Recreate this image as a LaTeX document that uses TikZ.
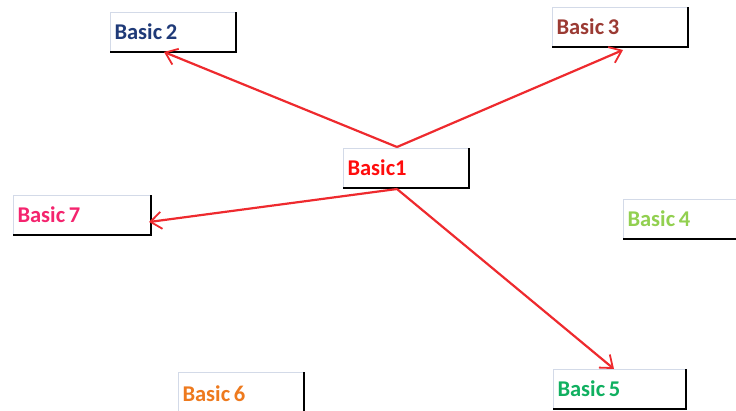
\documentclass[tikz,border=0pt]{standalone}
\usepackage{fontspec}
\setmainfont{Carlito}
\usetikzlibrary{arrows.meta}
\definecolor{edgegray}{HTML}{D3DAE8}
\definecolor{arrred}{HTML}{EE2A2E}
\definecolor{cBtwo}{HTML}{1F3A78}
\definecolor{cBthree}{HTML}{9B3A33}
\definecolor{cBone}{HTML}{FF0D0D}
\definecolor{cBseven}{HTML}{F4246E}
\definecolor{cBfour}{HTML}{92D050}
\definecolor{cBsix}{HTML}{EE7A1E}
\definecolor{cBfive}{HTML}{10B060}
\tikzset{
  basicbox/.style={draw=edgegray, line width=1pt, fill=white, anchor=north west,
    inner sep=0pt, minimum height=39pt, font=\fontsize{22.5}{25}\selectfont\bfseries,
    align=left},
  shadowline/.style={draw=black, line width=2.5pt},
  conn/.style={draw=arrred, line width=2.2pt, -{Straight Barb[length=11pt,width=17pt,line width=1.8pt]}}
}
\begin{document}
\begin{tikzpicture}[x=1pt,y=-1pt]
\useasboundingbox (0,0) rectangle (736,410);
\node[basicbox, minimum width=125pt, text width=117pt, text=cBtwo] (b2) at (110,12) {Basic\,2};
\node[basicbox, minimum width=135pt, text width=127pt, text=cBthree] (b3) at (552,7) {Basic\,3};
\node[basicbox, minimum width=125pt, text width=117pt, text=cBone] (b1) at (343,148) {Basic1};
\node[basicbox, minimum width=137pt, text width=129pt, text=cBseven] (b7) at (13,195) {Basic\,7};
\node[basicbox, minimum width=125pt, text width=117pt, text=cBfour] (b4) at (623,199) {Basic\,4};
\node[basicbox, minimum width=125pt, text width=117pt, text=cBsix, minimum height=42pt] (b6) at (178,372) {Basic\,6};
\node[basicbox, minimum width=132pt, text width=124pt, text=cBfive] (b5) at (553,369) {Basic\,5};
\foreach \n in {b2,b3,b1,b7,b5}{
  \draw[shadowline] (\n.north east) -- (\n.south east) -- (\n.south west);
}
\draw[shadowline] (b6.north east) -- (b6.south east);
\draw[shadowline] (b4.south west) -- (b4.south east);
\coordinate (s1) at (397,147);
\coordinate (s2) at (397,189);
\coordinate (t2) at (164,52);
\coordinate (t3) at (623,50);
\coordinate (t7) at (149,222);
\coordinate (t5) at (614,369);
\draw[conn] (s1) -- (t2);
\draw[conn] (s1) -- (t3);
\draw[conn] (s2) -- (t7);
\draw[conn] (s2) -- (t5);
\end{tikzpicture}
\end{document}
